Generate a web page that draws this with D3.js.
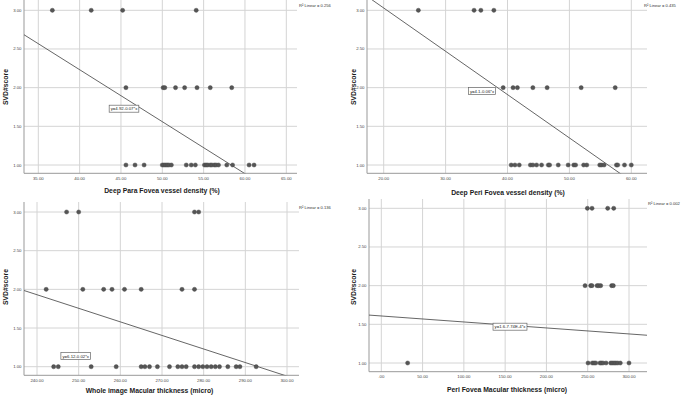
<!DOCTYPE html>
<html>
<head>
<meta charset="utf-8">
<script src="https://cdn.jsdelivr.net/npm/d3@7"></script>
<style>
  html, body { margin: 0; padding: 0; background: #fff; }
  svg { display: block; font-family: "Liberation Sans", Arial, sans-serif; }
</style>
</head>
<body>
<svg id="chart" width="685" height="397"></svg>
<script>
// Data: x values of the points at each SVD score
const paraDensity3 = [36.7, 41.4, 45.2, 54.1];
const paraDensity2 = [45.6, 50.1, 50.3, 51.6, 52.7, 54.2, 55.8, 58.4];
const paraDensity1 = [45.6, 46.7, 47.8, 50.0, 50.2, 50.4, 50.6, 50.8, 51.1, 52.9, 53.5, 54.0,
                      55.1, 55.3, 55.5, 55.8, 56.0, 56.3, 56.5, 56.8, 57.8, 58.5, 60.5, 61.1];

const periDensity3 = [25.6, 34.6, 35.7, 37.8];
const periDensity2 = [39.3, 40.9, 41.6, 44.1, 46.4, 51.9, 57.4];
const periDensity1 = [40.6, 41.2, 41.9, 43.7, 44.1, 44.7, 45.5, 46.6, 46.8, 48.2, 49.8, 50.7,
                      51.0, 52.3, 52.8, 54.9, 55.2, 55.6, 57.6, 57.8, 58.9, 60.0];

const wholeThick3 = [247.1, 250.0, 277.8, 278.8];
const wholeThick2 = [242.2, 251.0, 256.0, 258.0, 261.0, 265.0, 274.8, 277.8];
const wholeThick1 = [244.0, 245.1, 253.0, 259.0, 265.0, 265.9, 267.0, 268.9, 271.8, 273.8, 274.8,
                     275.8, 277.8, 278.8, 279.8, 280.8, 281.8, 282.8, 283.8, 285.8, 287.8, 288.7, 292.6];

const periThick3 = [249.6, 255.2, 274.2, 281.5];
const periThick2 = [246.8, 253.6, 255.2, 261.3, 263.3, 265.7, 279.0, 281.0];
const periThick1 = [31.9, 250.4, 255.6, 257.7, 259.7, 264.9, 266.5, 268.5, 272.2, 277.8, 279.8,
                    281.9, 283.9, 286.3, 289.5, 300.0];

// Fit lines (intercept, slope) and their labels
const fitIntercept = [4.92, 4.15, 6.14, 1.608];
const fitSlope = [-0.0672, -0.056, -0.01754, -0.000774];
const fitLabels = ["y=4.92-0.07*x", "y=4.1-0.06*x", "y=6.12-0.02*x", "y=1.6-7.74E-4*x"];
const r2Labels = ["R\u00b2 Linear = 0.256", "R\u00b2 Linear = 0.435", "R\u00b2 Linear = 0.136", "R\u00b2 Linear = 0.002"];

const xTitles = ["Deep Para Fovea vessel density (%)", "Deep Peri Fovea vessel density (%)",
                 "Whole image Macular thickness (micro)", "Peri Fovea Macular thickness (micro)"];
const yTitle = "SVD#score";

const xTicks = [
    [35, 40, 45, 50, 55, 60, 65],
    [20, 30, 40, 50, 60],
    [240, 250, 260, 270, 280, 290, 300],
    [0, 50, 100, 150, 200, 250, 300]
];
const yTicks = [1, 1.5, 2, 2.5, 3];

const pointSets = [
    [[paraDensity1, 1], [paraDensity2, 2], [paraDensity3, 3]],
    [[periDensity1, 1], [periDensity2, 2], [periDensity3, 3]],
    [[wholeThick1, 1], [wholeThick2, 2], [wholeThick3, 3]],
    [[periThick1, 1], [periThick2, 2], [periThick3, 3]]
];

// Layout of each panel (pixels)
const panels = [
    { xd: [35, 65], xr: [38.3, 286.3], yr: [165, 10.3], l: 24, r: 297, t: 0, b: 173.3,
      box: [124, 108.7], r2: [299, 6.8], xt: [162, 193], yt: [7.5, 87] },
    { xd: [20, 60], xr: [383.7, 631.3], yr: [165, 10.3], l: 367, r: 647, t: 0, b: 173.3,
      box: [482, 91], r2: [644, 6.8], xt: [508, 194.5], yt: [355.5, 87] },
    { xd: [240, 300], xr: [37, 287], yr: [366.7, 212], l: 24, r: 299, t: 202, b: 375.3,
      box: [75.7, 356], r2: [299, 208.5], xt: [149.5, 392.5], yt: [7.5, 287] },
    { xd: [0, 300], xr: [381.3, 629], yr: [363, 208.3], l: 369, r: 647, t: 199, b: 371.7,
      box: [510, 326.7], r2: [648, 204.5], xt: [507, 392], yt: [356, 287] }
];

const svg = d3.select("#chart");
const fmt = d3.format(".2f");
const tickFmt = v => fmt(v).replace(/^0\./, ".");

panels.forEach((p, i) => {
    const x = d3.scaleLinear().domain(p.xd).range(p.xr);
    const y = d3.scaleLinear().domain([1, 3]).range(p.yr);
    const g = svg.append("g");

    // Grid
    g.selectAll(".vgrid").data(xTicks[i]).enter().append("line")
        .attr("x1", d => x(d)).attr("x2", d => x(d))
        .attr("y1", p.t).attr("y2", p.b)
        .attr("stroke", "#d4d4d4").attr("stroke-width", 1);
    g.selectAll(".hgrid").data(yTicks).enter().append("line")
        .attr("x1", p.l).attr("x2", p.r)
        .attr("y1", d => y(d)).attr("y2", d => y(d))
        .attr("stroke", "#d4d4d4").attr("stroke-width", 1);

    // Axes
    g.append("line").attr("x1", p.l).attr("x2", p.l).attr("y1", p.t).attr("y2", p.b)
        .attr("stroke", "#999").attr("stroke-width", 1);
    g.append("line").attr("x1", p.l).attr("x2", p.r).attr("y1", p.b).attr("y2", p.b)
        .attr("stroke", "#999").attr("stroke-width", 1);

    g.selectAll(".xlab").data(xTicks[i]).enter().append("text")
        .attr("x", d => x(d)).attr("y", p.b + 6.6)
        .attr("text-anchor", "middle").attr("font-size", 4.3).attr("fill", "#444")
        .text(tickFmt);
    g.selectAll(".ylab").data(yTicks).enter().append("text")
        .attr("x", p.l - 2.5).attr("y", d => y(d) + 1.5)
        .attr("text-anchor", "end").attr("font-size", 4.3).attr("fill", "#444")
        .text(tickFmt);

    // Fit line, clipped to the plot area
    const clipId = "clip" + i;
    svg.append("clipPath").attr("id", clipId).append("rect")
        .attr("x", p.l).attr("y", p.t).attr("width", p.r - p.l).attr("height", p.b - p.t);
    const xs = [x.invert(p.l), x.invert(p.r)];
    g.append("path")
        .attr("clip-path", `url(#${clipId})`)
        .attr("d", d3.line().x(d => x(d)).y(d => y(fitIntercept[i] + fitSlope[i] * d))(xs))
        .attr("fill", "none").attr("stroke", "#555").attr("stroke-width", 0.9);

    // Points
    pointSets[i].forEach(([vals, score]) => {
        g.selectAll(null).data(vals).enter().append("circle")
            .attr("cx", d => x(d)).attr("cy", y(score))
            .attr("r", 2.1).attr("fill", "#555").attr("stroke", "#444").attr("stroke-width", 0.4);
    });

    // Fit label box
    const lab = g.append("g").attr("transform", `translate(${p.box[0]},${p.box[1]})`);
    const t = lab.append("text").attr("text-anchor", "middle").attr("y", 1.5)
        .attr("font-size", 4.3).attr("fill", "#222").text(fitLabels[i]);
    const w = t.node().getComputedTextLength() + 3;
    lab.insert("rect", "text").attr("x", -w / 2).attr("y", -3.5).attr("width", w).attr("height", 7)
        .attr("fill", "#fff").attr("stroke", "#666").attr("stroke-width", 0.7);

    // R² label
    g.append("text").attr("x", p.r2[0]).attr("y", p.r2[1])
        .attr("font-size", 4.1).attr("fill", "#333").text(r2Labels[i]);

    // Titles
    g.append("text").attr("x", p.xt[0]).attr("y", p.xt[1])
        .attr("text-anchor", "middle").attr("font-size", 6.8).attr("font-weight", "bold")
        .attr("fill", "#1a1a1a").text(xTitles[i]);
    g.append("text").attr("transform", `translate(${p.yt[0]},${p.yt[1]}) rotate(-90)`)
        .attr("text-anchor", "middle").attr("font-size", 6.8).attr("font-weight", "bold")
        .attr("fill", "#1a1a1a").text(yTitle);
});
</script>
</body>
</html>
